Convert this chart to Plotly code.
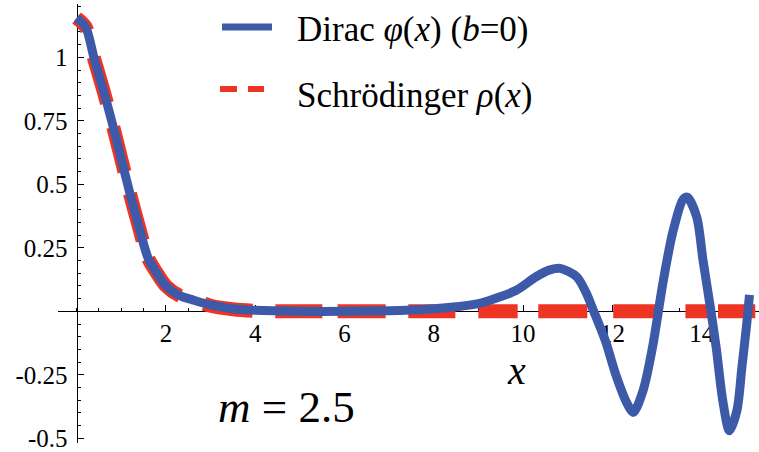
import plotly.graph_objects as go

# ---- data ----
dirac_x = [0.0, 0.2, 0.4, 0.6, 0.8, 1.0, 1.2, 1.4, 1.6, 1.8, 2.0, 2.3, 2.6, 3.0, 3.5, 4.0,
           5.0, 6.0, 7.0, 7.5, 8.0, 8.5, 9.0, 9.5, 9.86, 10.3, 10.6, 10.83, 11.2, 11.42, 11.57,
           11.72, 11.86, 12.09, 12.32, 12.47, 12.69, 12.9, 13.13, 13.35, 13.58, 13.68, 13.89,
           14.03, 14.19, 14.33, 14.47, 14.62, 14.79, 14.9, 15.01, 15.07]
dirac_y = [1.155, 1.12, 0.99, 0.87, 0.74, 0.60, 0.46, 0.33, 0.21, 0.15, 0.10, 0.062, 0.045, 0.025,
           0.01, 0.004, 0.0, 0.0, 0.002, 0.005, 0.01, 0.018, 0.03, 0.058, 0.084, 0.137, 0.163,
           0.169, 0.136, 0.07, 0.005, -0.06, -0.125, -0.257, -0.36, -0.398, -0.31, -0.14, 0.11,
           0.31, 0.44, 0.449, 0.37, 0.20, 0.02, -0.15, -0.35, -0.47, -0.39, -0.22, -0.047, 0.065]

schr_x = [0.0, 0.2, 0.4, 0.6, 0.8, 1.0, 1.2, 1.4, 1.6, 1.8, 2.0, 2.3, 2.6, 3.0, 3.5, 4.0,
          5.0, 6.0, 7.0, 8.0, 9.0, 10.0, 11.0, 12.0, 13.0, 14.0, 15.2]
schr_y = [1.155, 1.12, 0.99, 0.87, 0.74, 0.60, 0.46, 0.33, 0.21, 0.15, 0.10, 0.062, 0.045, 0.022,
          0.008, 0.002, 0.0, 0.0, 0.0, 0.0, 0.0, 0.0, 0.0, 0.0, 0.0, 0.0, 0.0]

x_ticks = [2, 4, 6, 8, 10, 12, 14]
x_ticktext = ["2", "4", "6", "8", "10", "12", "14"]
y_ticks = [-0.5, -0.25, 0.25, 0.5, 0.75, 1]
y_ticktext = ["-0.5", "-0.25", "0.25", "0.5", "0.75", "1"]

legend_labels = ["Dirac <i>φ</i>(<i>x</i>) (<i>b</i>=0)", "Schrödinger <i>ρ</i>(<i>x</i>)"]
param_label = "<i>m</i> = 2.5"
axis_label = "<i>x</i>"

# ---- style ----
W, H = 759, 452
BLUE = "#3d5aa9"
RED = "#ee3524"
FONT = "Liberation Serif, Tinos, Times New Roman, DejaVu Serif, serif"
# dash pattern of the Schrödinger curve (dash/gap lengths along the path, px)
RED_DASH = [17, 27, 48, 25, 46, 22, 49, 19, 50, 25, 49, 23, 47, 15, 48, 23, 47, 23,
            39, 21, 49, 26, 47, 25, 27, 6, 38, 60]
red_dash = ",".join(f"{v}px" for v in RED_DASH)


def px(xp):
    return xp / W


def py(yp):
    return 1 - yp / H


fig = go.Figure()
fig.add_trace(go.Scatter(x=schr_x, y=schr_y, mode="lines",
                         line=dict(color=RED, width=14, dash=red_dash, shape="spline", smoothing=0.8),
                         showlegend=False))
fig.add_trace(go.Scatter(x=dirac_x, y=dirac_y, mode="lines",
                         line=dict(color=BLUE, width=9, shape="spline", smoothing=0.8),
                         showlegend=False))

# legend drawn manually
fig.add_shape(type="line", xref="paper", yref="paper", x0=px(222), x1=px(272), y0=py(27), y1=py(27),
              line=dict(color=BLUE, width=7))
fig.add_shape(type="line", xref="paper", yref="paper", x0=px(220), x1=px(237), y0=py(89), y1=py(89),
              line=dict(color=RED, width=6))
fig.add_shape(type="line", xref="paper", yref="paper", x0=px(248), x1=px(264), y0=py(89), y1=py(89),
              line=dict(color=RED, width=6))
fig.add_annotation(text=legend_labels[0], xref="paper", yref="paper", x=px(295), y=py(30),
                   xanchor="left", yanchor="middle", showarrow=False,
                   font=dict(family=FONT, size=35, color="black"))
fig.add_annotation(text=legend_labels[1], xref="paper", yref="paper", x=px(295), y=py(95),
                   xanchor="left", yanchor="middle", showarrow=False,
                   font=dict(family=FONT, size=35, color="black"))
fig.add_annotation(text=param_label, xref="paper", yref="paper", x=px(286), y=py(407),
                   xanchor="center", yanchor="middle", showarrow=False,
                   font=dict(family=FONT, size=45, color="black"))
fig.add_annotation(text=axis_label, xref="paper", yref="paper", x=px(516), y=py(370),
                   xanchor="center", yanchor="middle", showarrow=False,
                   font=dict(family=FONT, size=40, color="black"))

x0_px, x1_px = 58, 759
y0_px, y1_px = 4, 443
xscale, xorig = 44.65, 76.6
yscale, yorig = 254.0, 311.3

fig.update_layout(
    width=W, height=H,
    margin=dict(l=0, r=0, t=0, b=0, autoexpand=False),
    paper_bgcolor="white", plot_bgcolor="white",
    font=dict(family=FONT, color="black"),
    xaxis=dict(
        domain=[px(x0_px), 1],
        range=[(x0_px - xorig) / xscale, (x1_px - xorig) / xscale],
        anchor="free", position=py(yorig), automargin=False,
        showline=True, linecolor="black", linewidth=1,
        showgrid=False, zeroline=False, layer="below traces",
        tickmode="array", tickvals=x_ticks, ticktext=x_ticktext,
        ticks="inside", ticklen=6, tickcolor="black", tickwidth=1,
        minor=dict(ticks="inside", ticklen=3.5, dtick=0.5, tick0=0, tickcolor="black", showgrid=False),
        tickfont=dict(family=FONT, size=25, color="black"),
        ticklabeloverflow="allow",
    ),
    yaxis=dict(
        domain=[py(y1_px), py(y0_px)],
        range=[(yorig - y1_px) / yscale, (yorig - y0_px) / yscale],
        anchor="free", position=px(xorig), automargin=False,
        showline=True, linecolor="black", linewidth=1,
        showgrid=False, zeroline=False, layer="below traces",
        tickmode="array", tickvals=y_ticks, ticktext=y_ticktext,
        ticks="inside", ticklen=6, tickcolor="black", tickwidth=1,
        minor=dict(ticks="inside", ticklen=3.5, dtick=0.05, tick0=0, tickcolor="black", showgrid=False),
        tickfont=dict(family=FONT, size=25, color="black"),
        ticklabeloverflow="allow", ticklabelstandoff=4,
    ),
)

fig.write_html("out.html", config={"displayModeBar": False},
               post_script="document.body.style.margin='0px';")
